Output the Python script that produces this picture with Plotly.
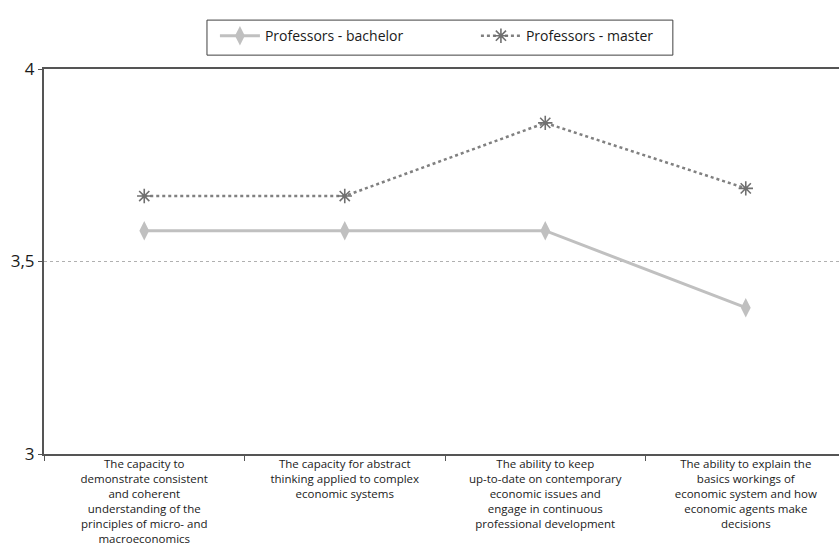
import plotly.graph_objects as go

categories = [
    "The capacity to<br>demonstrate consistent<br>and coherent<br>understanding of the<br>principles of micro- and<br>macroeconomics",
    "The capacity for abstract<br>thinking applied to complex<br>economic systems",
    "The ability to keep<br>up-to-date on contemporary<br>economic issues and<br>engage in continuous<br>professional development",
    "The ability to explain the<br>basics workings of<br>economic system and how<br>economic agents make<br>decisions",
]
bachelor = [3.58, 3.58, 3.58, 3.38]
master = [3.67, 3.67, 3.86, 3.69]
y_ticks = [3, 3.5, 4]

FONT = "Open Sans"

fig = go.Figure()
fig.add_trace(go.Scatter(
    x=categories, y=bachelor, name="Professors - bachelor", mode="lines+markers",
    line=dict(color="#c0c0c0", width=3),
    marker=dict(symbol="diamond-tall", size=14, color="#c0c0c0"),
))
fig.add_trace(go.Scatter(
    x=categories, y=master, name="Professors - master", mode="lines+markers",
    line=dict(color="#808080", width=2.5, dash="dot"),
    marker=dict(symbol="asterisk-open", size=12, color="#707070",
                line=dict(color="#707070", width=1.6)),
))

# legend frame
fig.add_shape(type="rect", xref="paper", yref="paper",
              x0=0.205, x1=0.791, y0=1.036, y1=1.127,
              line=dict(color="#404040", width=1), fillcolor="rgba(0,0,0,0)")

fig.update_layout(
    width=839, height=548,
    margin=dict(l=44, r=0, t=69, b=94),
    paper_bgcolor="white", plot_bgcolor="white",
    separators=",.",
    font=dict(family=FONT, color="#1a1a1a"),
    showlegend=True,
    legend=dict(
        orientation="h", x=0.215, xanchor="left", y=1.127, yanchor="top",
        borderwidth=0, font=dict(size=14, family=FONT),
        itemwidth=40, entrywidth=206, tracegroupgap=0, bgcolor="rgba(0,0,0,0)",
    ),
    xaxis=dict(
        type="category", range=[-0.5, 3.465], automargin=False,
        showline=True, linecolor="#555555", linewidth=2, mirror=True,
        ticks="outside", tickson="boundaries", ticklen=5, tickcolor="#555555",
        ticklabelstandoff=-2,
        showgrid=False, tickfont=dict(size=11.5, family=FONT, color="#1a1a1a"),
        fixedrange=True,
    ),
    yaxis=dict(
        range=[3, 4], tickvals=y_ticks, automargin=False,
        showline=True, linecolor="#555555", linewidth=2,
        ticks="outside", ticklen=4, tickcolor="#555555",
        showgrid=True, gridcolor="#b0b0b0", griddash="dot", gridwidth=1,
        zeroline=False, tickfont=dict(size=17, family=FONT, color="#1a1a1a"),
    ),
)

fig.write_html("out.html", config={"displayModeBar": False},
               post_script="document.body.style.margin='0px';")
